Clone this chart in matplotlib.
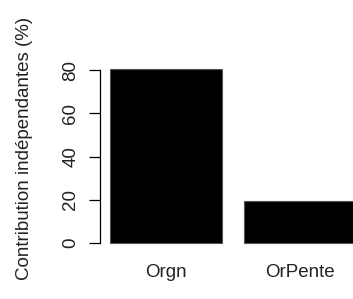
import matplotlib
matplotlib.use("Agg")
import matplotlib.pyplot as plt

categories = ["Orgn", "OrPente"]
values = [80.6, 19.4]
yticks = [0, 20, 40, 60, 80]

plt.rcParams['font.family'] = ['Liberation Sans', 'DejaVu Sans']

W, H = 353, 299
fig = plt.figure(figsize=(W / 100, H / 100), dpi=100)
# axes box in pixels: left 100 .. right 353, top 40 .. bottom 250
ax = fig.add_axes([100 / W, (H - 250) / H, (W - 100) / W, 210 / H])

pos = [0.7 + i * 1.2 for i in range(len(categories))]
ax.bar(pos, values, width=1.0, color="black", edgecolor="#555555", linewidth=0.8)

ax.set_xlim(0.111, 2.37)
ax.set_ylim(-3.24, 93.9)

for s in ["top", "right", "bottom"]:
    ax.spines[s].set_visible(False)
ax.spines["left"].set_bounds(0, 80)
ax.spines["left"].set_linewidth(0.9)

fs = 13.5
ax.set_yticks(yticks)
ax.set_yticklabels([str(t) for t in yticks], rotation=90, va="center",
                   fontsize=fs, color="#222222")
ax.tick_params(axis="y", length=8, width=0.9, pad=7)

ax.set_xticks(pos)
ax.set_xticklabels(categories, fontsize=fs, color="#222222")
ax.tick_params(axis="x", length=0, pad=10)

fig.text(25 / W, 1 - 148 / H, "Contribution indépendantes (%)", rotation=90,
         ha="center", va="center", fontsize=fs, color="#222222")

fig.savefig("out.png", dpi=100)
